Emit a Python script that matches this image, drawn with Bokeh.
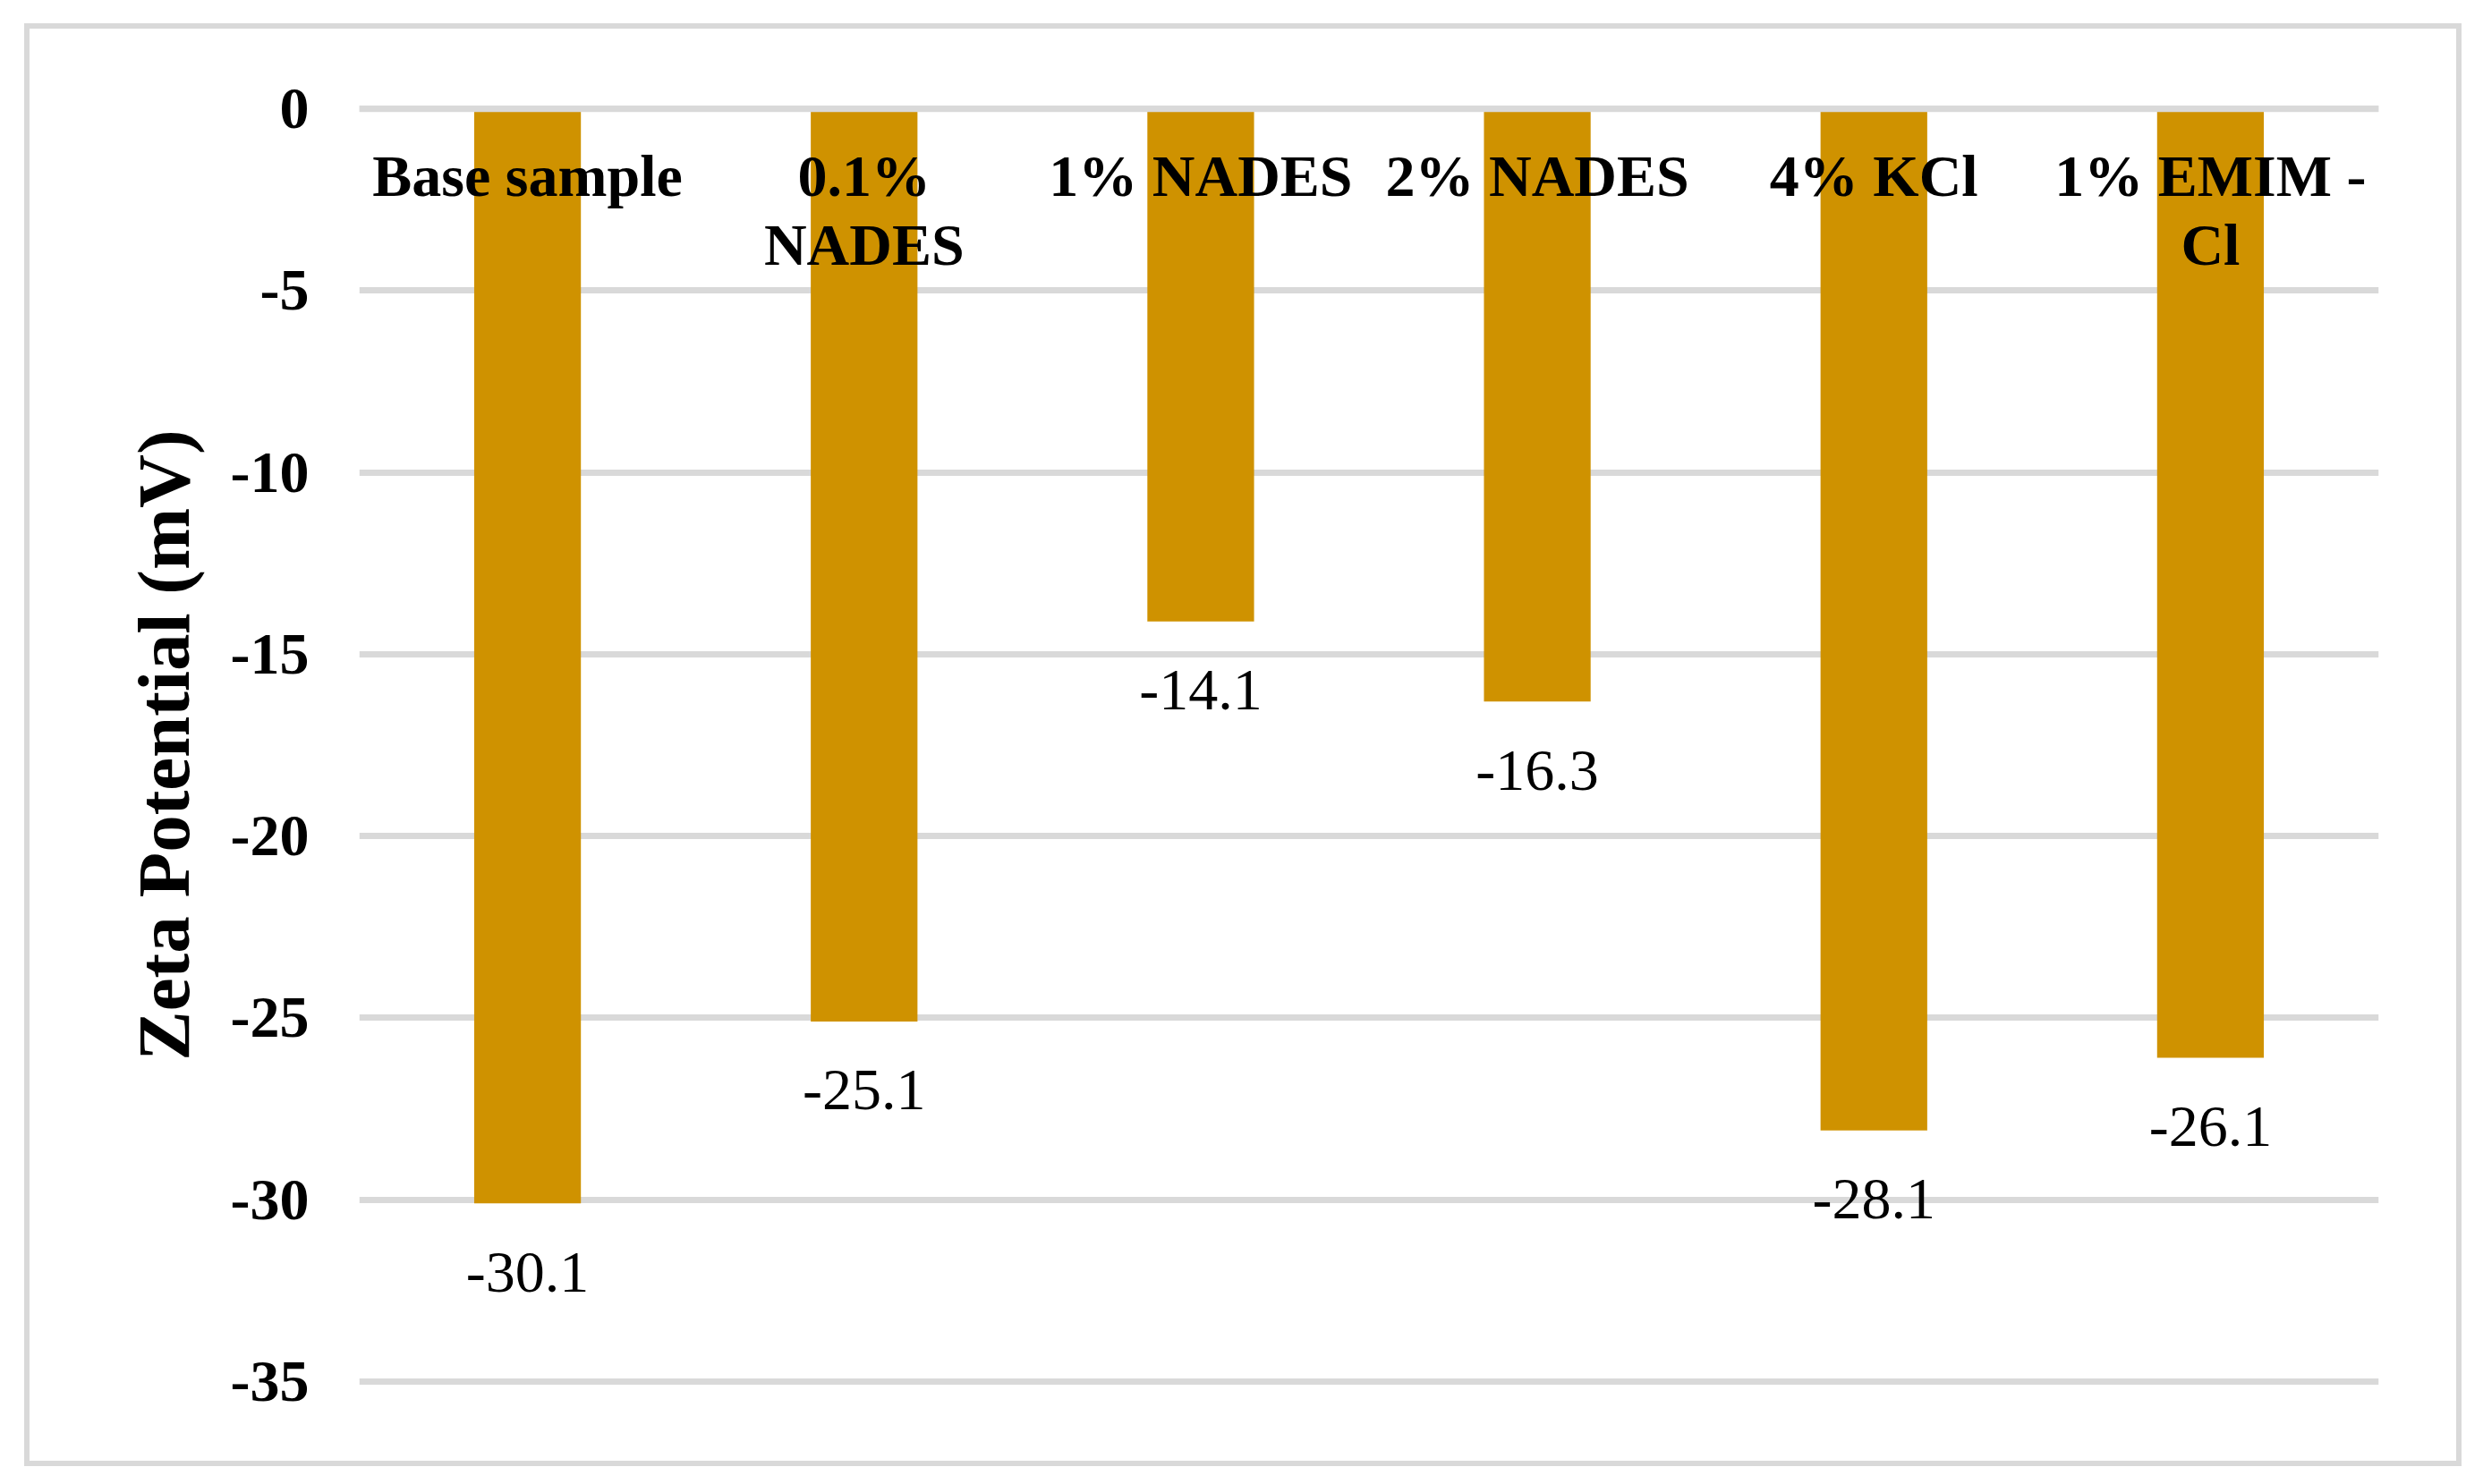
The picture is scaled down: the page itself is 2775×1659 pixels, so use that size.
from bokeh.plotting import figure
from bokeh.models import ColumnDataSource, Span, FixedTicker, Range1d
from bokeh.core.properties import value
from bokeh.embed import file_html
from bokeh.resources import INLINE

# ---- data ----
categories = ["Base sample", "0.1%\nNADES", "1% NADES", "2% NADES", "4% KCl", "1% EMIM -\nCl"]
zeta_mv = [-30.1, -25.1, -14.1, -16.3, -28.1, -26.1]
y_ticks = [0, -5, -10, -15, -20, -25, -30, -35]
y_title = "Zeta Potential (mV)"

FONT = "Liberation Serif"
GRID = "#D9D9D9"
BAR = "#CF9200"

line1 = [c.split("\n")[0] for c in categories]
line2 = [c.split("\n")[1] if "\n" in c else "" for c in categories]

src = ColumnDataSource(dict(
    cat=categories,
    val=zeta_mv,
    zero=[0] * len(categories),
    lab=[f"{v:.1f}" for v in zeta_mv],
    l1=line1,
    l2=line2,
))

p = figure(
    x_range=categories,
    y_range=Range1d(-35.3, 0.3),
    width=2712, height=1601,
    output_backend="svg", toolbar_location=None,
    min_border_left=368, min_border_right=87,
    min_border_top=77, min_border_bottom=77,
)
p.styles = {
    "position": "absolute",
    "left": "33px",
    "top": "32px",
    "outline": "6px solid #D9D9D9",
}
p.outline_line_color = None
p.background_fill_color = "white"
p.border_fill_color = "white"

p.vbar(x="cat", top="zero", bottom="val", width=0.317, source=src,
       fill_color=BAR, line_color=None)

p.add_layout(Span(location=0, dimension="width", line_color=GRID, line_width=7, level="overlay"))

p.xaxis.visible = False
p.xgrid.visible = False
p.ygrid.grid_line_color = GRID
p.ygrid.grid_line_width = 7

ax = p.yaxis[0]
ax.ticker = FixedTicker(ticks=y_ticks)
ax.major_label_overrides = {t: str(t) for t in y_ticks}
ax.axis_line_color = None
ax.major_tick_line_color = None
ax.minor_tick_line_color = None
ax.major_label_text_font = FONT
ax.major_label_text_font_style = "bold"
ax.major_label_text_font_size = "66px"
ax.major_label_text_color = "black"
ax.major_label_standoff = 50
ax.axis_label = y_title
ax.axis_label_text_font = FONT
ax.axis_label_text_font_style = "bold"
ax.axis_label_text_font_size = "83px"
ax.axis_label_text_color = "black"
ax.axis_label_standoff = 26

common = dict(text_font=value(FONT), text_font_size="66px", text_align="center",
              text_baseline="alphabetic", text_color="black", source=src)
p.text(x="cat", y="zero", text="l1", text_font_style="bold", y_offset=75, **common)
p.text(x="cat", y="zero", text="l2", text_font_style="bold", y_offset=152, **common)
p.text(x="cat", y="val", text="lab", y_offset=77, **common)

open("out.html", "w").write(file_html(p, INLINE))
